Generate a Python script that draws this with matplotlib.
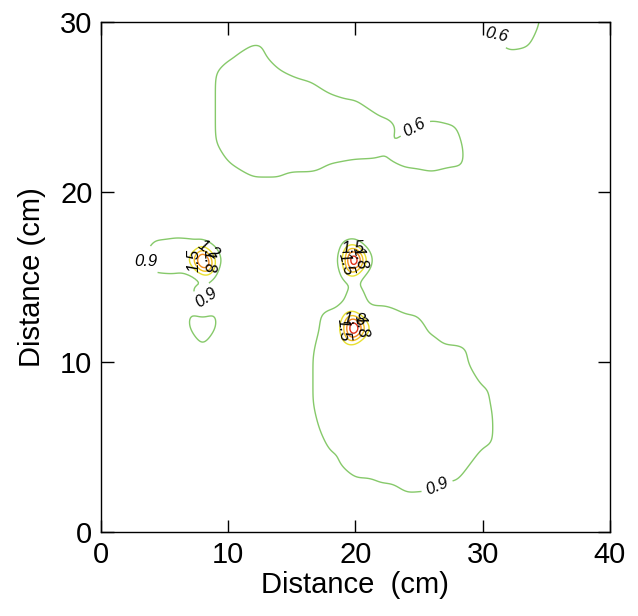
import numpy as np
import matplotlib
matplotlib.use("Agg")
import matplotlib.pyplot as plt
import matplotlib.tri as mtri

plt.rcParams['font.family'] = ['Liberation Sans', 'DejaVu Sans']

# measurement grid (cm)
grid_x = [0, 2, 4, 6, 8, 10, 12, 14, 16, 18, 20, 22, 24, 26, 28, 30, 32, 34, 36, 38, 40]
grid_y = [30, 28, 26, 24, 22, 20, 18, 16, 14, 12, 10, 8, 6, 4, 2, 0]

# values on the grid, rows from y=30 (top) down to y=0
field = [
    [.75, .75, .75, .75, .75, .75, .75, .75, .75, .75, .75, .75, .75, .75, .75, .75, .45, .55, .75, .75, .75],
    [.75, .75, .75, .75, .75, .62, .52, .70, .72, .75, .75, .75, .75, .75, .75, .75, .63, .65, .75, .75, .75],
    [.75, .75, .75, .75, .75, .45, .45, .45, .55, .62, .66, .75, .75, .75, .75, .75, .75, .75, .75, .75, .75],
    [.75, .75, .75, .75, .75, .45, .45, .45, .45, .45, .45, .56, .62, .58, .60, .75, .75, .75, .75, .75, .75],
    [.75, .75, .75, .75, .75, .58, .50, .50, .50, .57, .595, .60, .54, .50, .55, .75, .75, .75, .75, .75, .75],
    [.75, .75, .75, .75, .75, .75, .68, .68, .75, .75, .75, .75, .75, .75, .75, .75, .75, .75, .75, .75, .75],
    [.75, .75, .84, .85, .80, .75, .75, .75, .75, .75, .75, .75, .75, .75, .75, .75, .75, .75, .75, .75, .75],
    [.75, .75, .98, 1.0, 3.2, .72, .75, .75, .75, .72, 3.3, .72, .75, .75, .75, .75, .75, .75, .75, .75, .75],
    [.75, .75, .75, .75, 1.05, .75, .75, .75, .75, .82, 1.0, .85, .75, .75, .75, .75, .75, .75, .75, .75, .75],
    [.75, .75, .75, .75, .42, .75, .75, .75, .75, 1.0, 3.3, 1.0, 1.0, .88, .80, .75, .75, .75, .75, .75, .75],
    [.75, .75, .75, .75, .75, .75, .75, .75, .85, 1.0, 1.0, 1.0, 1.0, 1.0, 1.0, .75, .75, .75, .75, .75, .75],
    [.75, .75, .75, .75, .75, .75, .75, .75, .85, 1.0, 1.0, 1.02, 1.02, 1.02, 1.0, .95, .75, .75, .75, .75, .75],
    [.75, .75, .75, .75, .75, .75, .75, .75, .75, 1.0, 1.0, 1.0, 1.0, 1.0, 1.0, 1.0, .75, .75, .75, .75, .75],
    [.75, .75, .75, .75, .75, .75, .75, .75, .75, .85, 1.0, 1.0, 1.0, 1.0, 1.0, .80, .75, .75, .75, .75, .75],
    [.75, .75, .75, .75, .75, .75, .75, .75, .75, .75, .75, .82, .88, .87, .80, .75, .75, .75, .75, .75, .75],
    [.75, .75, .75, .75, .75, .75, .75, .75, .75, .75, .75, .75, .75, .75, .75, .75, .75, .75, .75, .75, .75],
]

# extra close-spaced readings around the three hot spots
extra_x = [7, 9, 8, 8, 7, 9, 7, 9,
           19, 21, 20, 20, 19, 21, 19, 21,
           19, 21, 20, 20, 19, 21, 19, 21]
extra_y = [16, 16, 17, 15, 17, 17, 15, 15,
           16, 16, 17, 15, 17, 17, 15, 15,
           12, 12, 13, 11, 13, 13, 11, 11]
extra_v = [1.25, 1.15, 0.85, 0.75, 0.92, 0.82, 0.82, 0.75,
           1.05, 1.05, 0.85, 0.86, 0.80, 0.80, 0.80, 0.80,
           1.25, 1.25, 0.90, 0.85, 0.92, 0.92, 0.92, 0.92]

low_levels = [0.6, 0.9]
high_levels = [1.2, 1.5, 1.8, 2.1]
low_colors = ['#86c96a', '#86c96a']
high_colors = ['#e8e030', '#f0c020', '#f08a20', '#e03018']

gx, gy = np.meshgrid(grid_x, grid_y)
px = np.concatenate([gx.ravel(), extra_x]).astype(float)
py = np.concatenate([gy.ravel(), extra_y]).astype(float)
pv = np.concatenate([np.array(field).ravel(), extra_v]).astype(float)

tri = mtri.Triangulation(px, py)
interp = mtri.LinearTriInterpolator(tri, pv)
xi, yi = np.meshgrid(np.linspace(0, 40, 401), np.linspace(0, 30, 301))
zi = np.asarray(interp(xi, yi).filled(0.75))


def smooth(z, sigma):
    r = int(3 * sigma)
    k = np.exp(-0.5 * (np.arange(-r, r + 1) / sigma) ** 2)
    k /= k.sum()
    zp = np.pad(z, ((r, r), (0, 0)), mode='edge')
    z = np.apply_along_axis(lambda c: np.convolve(c, k, mode='valid'), 0, zp)
    zp = np.pad(z, ((0, 0), (r, r)), mode='edge')
    z = np.apply_along_axis(lambda c: np.convolve(c, k, mode='valid'), 1, zp)
    return z


zi = smooth(zi, 3.5)

fig = plt.figure(figsize=(6.38, 6.16), dpi=100)
ax = fig.add_axes([0.158, 0.136, 0.798, 0.828])

cs_low = ax.contour(xi, yi, zi, levels=low_levels, colors=low_colors, linewidths=1.0)
cs_high = ax.contour(xi, yi, zi, levels=high_levels, colors=high_colors, linewidths=1.0)

low_pos = [(31.4, 29.3), (24.6, 23.9), (4.0, 16.0), (26.5, 2.6), (8.4, 13.7)]
ax.clabel(cs_low, manual=low_pos, inline=True, fmt='%.1f', fontsize=12, colors='k')
high_pos = [(8.7, 16.8), (7.2, 16.0), (8.2, 15.9),
            (19.2, 15.8), (19.8, 16.6), (20.3, 16.1),
            (19.1, 11.9), (19.9, 12.5), (20.4, 12.1)]
ax.clabel(cs_high, manual=high_pos, inline=False, fmt='%.1f', fontsize=12, colors='k')
for t in list(cs_low.labelTexts) + list(cs_high.labelTexts):
    t.set_fontstyle('italic')
cs_low.labelTexts[0].set_rotation(-12)
cs_low.labelTexts[2].set_rotation(0)

ax.set_xlim(0, 40)
ax.set_ylim(0, 30)
ax.set_xticks([0, 10, 20, 30, 40])
ax.set_yticks([0, 10, 20, 30])
ax.tick_params(direction='in', length=9, width=1, top=True, right=True, labelsize=21, pad=6)
for s in ax.spines.values():
    s.set_linewidth(1.0)
ax.set_xlabel('Distance  (cm)', fontsize=21, labelpad=2)
ax.set_ylabel('Distance (cm)', fontsize=21, labelpad=10)

fig.savefig('out.png', dpi=100)
